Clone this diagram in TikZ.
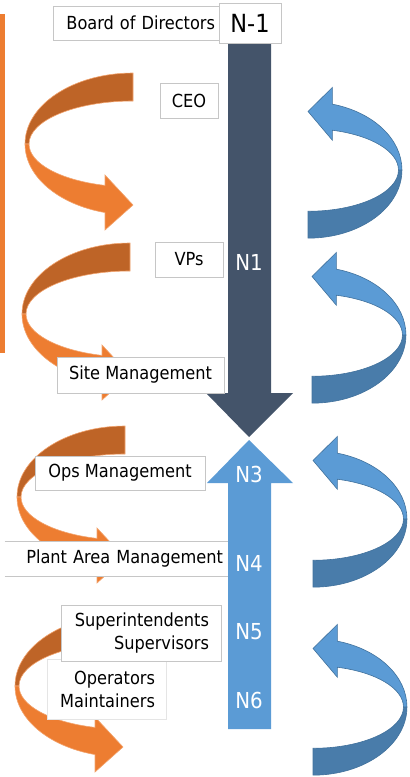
\documentclass[tikz,border=0pt]{standalone}
\usepackage{fontspec}
\setmainfont{DejaVu Sans Condensed}

\definecolor{orangeF}{HTML}{ED7D31}
\definecolor{blueF}{HTML}{5B9BD5}
\definecolor{blueEdge}{HTML}{41719C}
\definecolor{slate}{HTML}{44546A}

\tikzset{
    lblbox/.style={draw=gray!45, fill=white, inner sep=0pt,
        font=\fontsize{9}{11.5}\selectfont},
    nlabel/.style={text=white, font=\fontsize{11}{13}\selectfont},
    orangeback/.style={fill=orangeF!80!black, draw=orangeF!70!white, line width=0.3pt},
    orangefront/.style={fill=orangeF, draw=orangeF!70!white, line width=0.3pt},
    blueback/.style={fill=blueF!80!black, draw=blueEdge, line width=0.3pt},
    bluefront/.style={fill=blueF, draw=blueEdge, line width=0.3pt},
}

% twisted turning arrow: #1,#2 centre, #3,#4 scale, #5 back style, #6 front style
\newcommand{\turnarrow}[6]{%
    \begin{scope}[shift={(#1,#2)}, xscale=#3, yscale=#4]
        \filldraw[#5] (-90:108 and 71)
            arc[start angle=-90, end angle=-180, x radius=108, y radius=71]
            -- (180:104 and 43)
            arc[start angle=180, end angle=270, x radius=104, y radius=43] -- cycle;
        \filldraw[#6] (180:108 and 71)
            arc[start angle=180, end angle=105, x radius=108, y radius=71]
            -- (-28,86) -- (0,61) -- (-28,31) -- (105.6:104 and 43)
            arc[start angle=105.6, end angle=180, x radius=104, y radius=43] -- cycle;
    \end{scope}}

\begin{document}
\begin{tikzpicture}[x=0.5pt, y=-0.5pt]
    \useasboundingbox (0,0) rectangle (410,777);

    \fill[orangeF] (0,14) rectangle (5,353);

    % orange loops on the left
    \turnarrow{133}{144}{1}{1}{orangeback}{orangefront}
    \turnarrow{130}{314}{1}{1}{orangeback}{orangefront}
    \turnarrow{125}{497}{1}{1}{orangeback}{orangefront}
    \turnarrow{123}{686}{1}{1}{orangeback}{orangefront}

    % blue loops on the right
    \turnarrow{308}{170}{-0.87}{-0.96}{blueback}{bluefront}
    \turnarrow{312}{335}{-0.87}{-0.96}{blueback}{bluefront}
    \turnarrow{313}{519}{-0.87}{-0.96}{blueback}{bluefront}
    \turnarrow{313}{707}{-0.87}{-0.96}{blueback}{bluefront}

    % down and up arrows
    \fill[slate] (228,40) -- (271,40) -- (271,393) -- (293,393)
        -- (249,437) -- (206,393) -- (228,393) -- cycle;
    \fill[blueF] (228,729) -- (271,729) -- (271,483) -- (293,483)
        -- (249,440) -- (207,483) -- (228,483) -- cycle;

    \node[nlabel] (n1) at (249,262) {N1};
    \node[nlabel] (n3) at (249,474) {N3};
    \node[nlabel] (n4) at (249,563) {N4};
    \node[nlabel] (n5) at (249,632) {N5};
    \node[nlabel] (n6) at (249,700) {N6};

    % level boxes
    \node[lblbox, text width=79pt, align=right, inner xsep=2pt, minimum height=17pt]
        (board) at (136,23) {Board of Directors};
    \node[lblbox, minimum width=31pt, minimum height=20pt,
        font=\fontsize{12.5}{14}\selectfont] (nminus) at (250,23) {N-1};
    \node[lblbox, minimum width=29pt, minimum height=17.5pt] (ceo) at (189,100.5) {CEO};
    \node[lblbox, minimum width=34pt, minimum height=17.5pt] (vps) at (189,259.5) {VPs};
    \node[lblbox, minimum width=83.5pt, minimum height=18pt] (site) at (140.5,375)
        {Site Management};
    \node[lblbox, minimum width=85pt, minimum height=17pt] (ops) at (120,473)
        {Ops Management};
    \node[lblbox, draw=none, text width=106.5pt, align=right, inner xsep=2.5pt,
        minimum height=17pt] (plant) at (116.5,559) {Plant Area Management};
    \draw[gray!45] (plant.north west) -- (plant.north east)
        (plant.south west) -- (plant.south east);
    \node[lblbox, draw=gray!20, text width=48.5pt, align=right, inner xsep=5.5pt,
        minimum height=30pt] (oper) at (106.5,689) {Operators\\Maintainers};
    \node[lblbox, text width=68pt, align=right, inner xsep=6pt,
        minimum height=28pt] (super) at (141,633) {Superintendents\\Supervisors};
\end{tikzpicture}
\end{document}
